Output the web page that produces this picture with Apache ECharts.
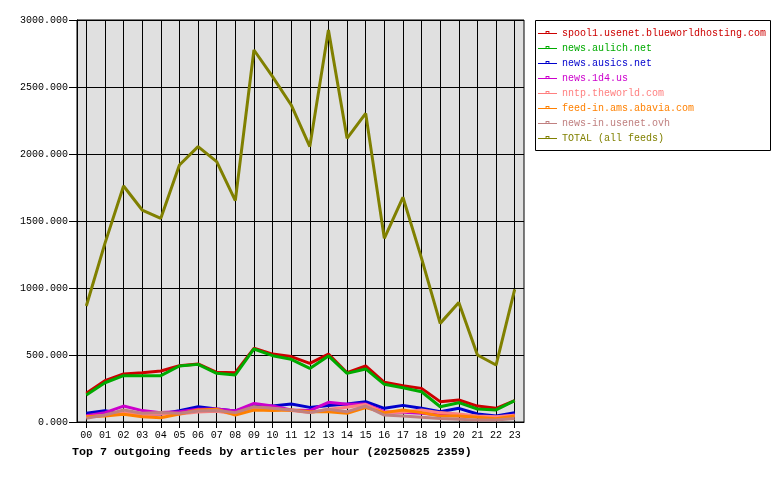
<!DOCTYPE html>
<html><head><meta charset="utf-8">
<script src="https://cdn.jsdelivr.net/npm/echarts@6/dist/echarts.min.js"></script>
<style>html,body{margin:0;padding:0;background:#fff}#c{width:780px;height:480px}</style>
</head><body><div id="c"></div>
<script>
const hours = ['00','01','02','03','04','05','06','07','08','09','10','11','12','13','14','15','16','17','18','19','20','21','22','23'];
const yTicks = [0, 500, 1000, 1500, 2000, 2500, 3000];
const names = ['spool1.usenet.blueworldhosting.com','news.aulich.net','news.ausics.net','news.1d4.us','nntp.theworld.com','feed-in.ams.abavia.com','news-in.usenet.ovh','TOTAL (all feeds)'];
const colors = ['#cc0000','#00aa00','#0000cc','#cc00cc','#ff8080','#ff8000','#c08080','#808000'];
const spool1 = [214,308,358,368,381,420,433,371,368,550,507,488,438,507,368,418,296,271,251,152,164,119,102,160];
const aulich = [201,293,346,346,346,418,430,363,351,545,495,468,400,493,363,396,281,256,226,114,144,97,90,159];
const ausics = [65,84,60,60,60,85,114,97,82,119,119,134,109,124,134,152,102,124,102,77,102,60,45,70];
const d4 = [47,70,119,85,70,77,95,97,82,139,119,90,85,147,132,134,77,72,65,52,47,40,35,52];
const theworld = [40,50,70,55,60,60,75,80,60,110,100,85,70,95,110,130,70,75,90,70,60,45,40,50];
const abavia = [40,45,57,40,32,60,90,95,52,90,85,90,77,77,65,107,70,90,70,45,45,35,25,45];
const ovh = [27,52,90,65,70,65,82,85,70,114,102,90,70,95,77,119,52,45,35,27,20,15,15,27];
const total = [866,1333,1761,1582,1520,1918,2055,1943,1652,2776,2577,2366,2055,2925,2117,2303,1371,1677,1221,736,891,500,425,990];
const seriesData = [spool1, aulich, ausics, d4, theworld, abavia, ovh, total];

const FONT = '"Liberation Mono", "DejaVu Sans Mono", monospace';
const LEGEND_ICON = 'path://M0,0M0,10M0,5H8V3H12V5H20V6H0ZM9,4V5H11V4Z';
const chart = echarts.init(document.getElementById('c'), null, {renderer:'canvas'});
chart.setOption({
  animation: false,
  backgroundColor: '#fff',
  title: {
    text: 'Top 7 outgoing feeds by articles per hour (20250825 2359)',
    left: 72, top: 446, padding: 0,
    textStyle: {fontFamily: FONT, fontSize: 11.7, fontWeight: 'bold', color: '#000'}
  },
  graphic: [{
    type: 'rect', left: 535, top: 20, z: -1,
    shape: {width: 235, height: 130},
    style: {fill: '#fff', stroke: '#000', lineWidth: 1}
  }],
  legend: {
    orient: 'vertical', left: 538, top: 28, padding: 0,
    itemWidth: 19, itemHeight: 10, itemGap: 5,
    textStyle: {fontFamily: FONT, fontSize: 10},
    data: names.map((n, i) => ({name: n, icon: LEGEND_ICON,
      itemStyle: {color: colors[i], borderWidth: 0},
      textStyle: {color: colors[i]}}))
  },
  grid: {
    left: 77, right: 256, top: 20, bottom: 58,
    show: true, backgroundColor: '#e0e0e0', borderColor: '#000', borderWidth: 1,
    containLabel: false
  },
  xAxis: {
    type: 'category', data: hours, boundaryGap: true,
    axisLine: {lineStyle: {color: '#000', width: 1}},
    axisTick: {show: true, alignWithLabel: true, length: 6, lineStyle: {color: '#000'}},
    splitLine: {show: true, alignWithLabel: true, lineStyle: {color: '#000', width: 1}},
    axisLabel: {fontFamily: FONT, fontSize: 10, color: '#000', margin: 8, interval: 0}
  },
  yAxis: {
    type: 'value', min: yTicks[0], max: yTicks[yTicks.length - 1], interval: 500,
    axisLine: {show: true, lineStyle: {color: '#000'}},
    axisTick: {show: true, length: 8, lineStyle: {color: '#000'}},
    splitLine: {show: true, lineStyle: {color: '#000', width: 1}},
    axisLabel: {fontFamily: FONT, fontSize: 10, color: '#000', margin: 9,
      formatter: v => v.toFixed(3)}
  },
  series: names.map((n, i) => ({
    name: n, type: 'line', data: seriesData[i],
    showSymbol: false, symbol: 'none',
    color: colors[i],
    lineStyle: {width: 3, color: colors[i]},
    itemStyle: {color: colors[i]},
    emphasis: {disabled: true}
  }))
});
</script></body></html>
